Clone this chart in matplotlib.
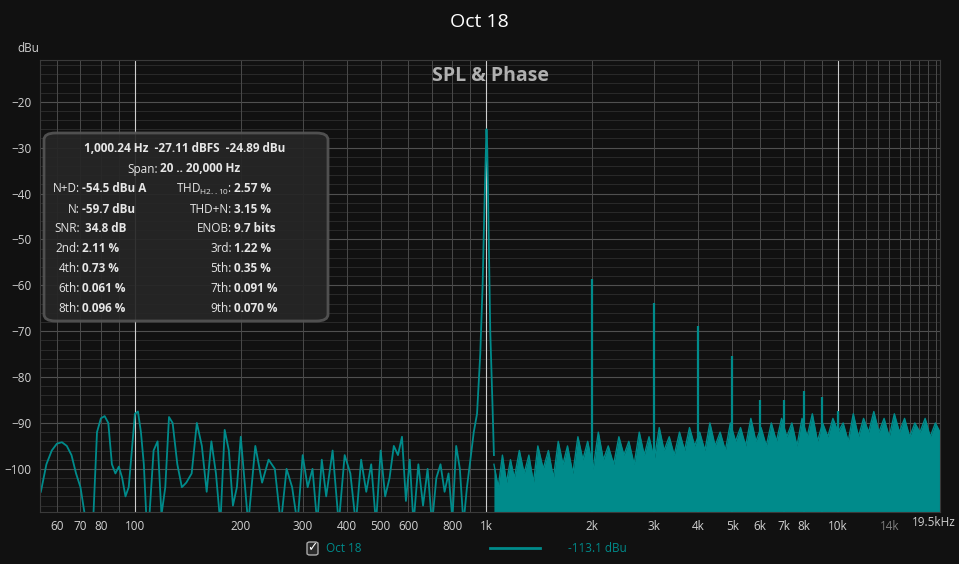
import matplotlib.pyplot as plt
from matplotlib.patches import FancyBboxPatch
from matplotlib.lines import Line2D

plt.rcParams['font.family'] = 'Open Sans'

teal = '#008b8b'
bg = '#111111'

# low frequency part (Hz, dBu)
lo_f = [54, 56, 58, 60, 62, 64, 66, 68, 70, 72, 74, 76, 78, 80, 82, 84, 86, 88, 90, 92,
        94, 96, 98, 100, 102, 104, 106, 108, 110, 113, 116, 119, 122, 125, 128, 132, 136,
        140, 145, 150, 155, 160, 165, 170, 175, 180, 185, 190, 195, 200, 210, 220, 230,
        240, 250, 260, 270, 280, 290, 300, 310, 320, 330, 340, 350, 365, 380, 395, 410,
        425, 440, 455, 470, 485, 500, 515, 530, 545, 560, 575, 590, 605, 620, 640, 660,
        680, 700, 720, 740, 760, 780, 800, 820, 840, 860, 880, 900, 920, 940, 960, 975,
        985, 995, 1000, 1005, 1015, 1025, 1040, 1050]
lo_db = [-105, -99, -96, -94.5, -94.2, -95, -97, -101, -104, -110, -112, -112, -92, -89,
         -88.5, -90, -99, -101, -99.5, -102, -106, -104, -96, -88, -87.5, -92, -99, -112,
         -110, -96, -94, -110, -104, -88.7, -90, -99, -104, -103, -101, -90, -95, -105,
         -94, -101, -112, -91.5, -96, -108, -104, -93, -112, -95, -103, -98, -100, -112,
         -100, -104, -112, -97, -104, -100, -112, -98, -106, -96, -112, -97, -101, -112,
         -98, -105, -99, -112, -96, -106, -102, -95, -97, -93, -107, -98, -112, -99, -108,
         -100, -112, -102, -99, -105, -101, -111, -95, -100, -112, -104, -98, -92, -88,
         -75, -60, -45, -32, -26, -30, -50, -70, -86, -97]

# noise floor top edge above 1 kHz (jagged, alternating peaks and dips)
hi_f = [1050, 1080, 1110, 1140, 1170, 1200, 1240, 1280, 1320, 1360, 1400, 1450, 1500, 1550,
        1600, 1650, 1700, 1760, 1820, 1880, 1940, 2010, 2080, 2150, 2220, 2300, 2380, 2460,
        2540, 2630, 2720, 2810, 2900, 3000, 3100, 3200, 3310, 3420, 3540, 3660, 3780, 3910,
        4040, 4180, 4320, 4470, 4620, 4780, 4940, 5110, 5280, 5460, 5650, 5840, 6040, 6250,
        6460, 6680, 6910, 7150, 7390, 7640, 7900, 8170, 8450, 8740, 9040, 9350, 9670, 10000,
        10340, 10690, 11050, 11430, 11820, 12220, 12640, 13070, 13520, 13980, 14460, 14950,
        15460, 15990, 16540, 17100, 17690, 18290, 18920, 19500]
hi_top = [-99, -104, -97, -103, -98, -102, -96, -101, -97, -103, -95, -100, -96, -102,
          -94, -99, -95, -101, -93, -98, -94, -100, -92, -98, -95, -99, -93, -97,
          -94, -99, -92, -97, -93, -98, -91, -96, -93, -97, -92, -96, -91, -95,
          -92, -96, -90, -95, -92, -96, -90, -94, -91, -95, -89, -94, -91, -95,
          -90, -94, -89, -93, -90, -95, -89, -93, -88, -94, -90, -93, -89, -92,
          -90, -94, -88, -93, -89, -92, -87.5, -92, -89, -93, -88, -92, -89, -93,
          -90, -92, -89, -93, -90, -92]

harm_f = [2000, 3000, 4000, 5000, 6000, 7000, 8000, 9000, 10000]
harm_db = [-58.7, -63.9, -68.9, -75.5, -85, -85, -83, -84.4, -87.4]

xticks = [60, 70, 80, 100, 200, 300, 400, 500, 600, 800, 1000, 2000, 3000, 4000,
          5000, 6000, 7000, 8000, 10000, 14000]
xlabels = ['60', '70', '80', '100', '200', '300', '400', '500', '600', '800', '1k', '2k',
           '3k', '4k', '5k', '6k', '7k', '8k', '10k', '14k']
yticks = [-20, -30, -40, -50, -60, -70, -80, -90, -100]

W, H = 959, 564
fig = plt.figure(figsize=(W / 100, H / 100), dpi=100, facecolor=bg)
ax = fig.add_axes([40 / W, 52 / H, 900 / W, 452 / H], facecolor=bg)
ax.set_xscale('log')
ymin, ymax = -109.4, -10.9
ax.set_xlim(53.7, 19500)
ax.set_ylim(ymin, ymax)

# grid
for yv in range(-108, -10, 2):
    ax.axhline(yv, color='#2e2e2e', lw=0.6, zorder=0)
for yv in yticks:
    ax.axhline(yv, color='#505050', lw=0.8, zorder=0)
minor = [60, 70, 80, 90, 200, 300, 400, 500, 600, 700, 800, 900, 2000, 3000, 4000,
         5000, 6000, 7000, 8000, 9000, 11000, 12000, 13000, 14000, 15000, 16000,
         17000, 18000, 19000]
for xv in minor:
    ax.axvline(xv, color='#4a4a4a', lw=0.7, zorder=0)
for xv in [100, 1000, 10000]:
    ax.axvline(xv, color='#cfcfcf', lw=0.8, zorder=0)

ax.plot(lo_f, lo_db, color=teal, lw=1.3, zorder=2)
ax.fill_between(hi_f, ymin, hi_top, color=teal, lw=0, zorder=2)
ax.plot(hi_f, hi_top, color=teal, lw=1.0, zorder=2)
ax.vlines(harm_f, ymin, harm_db, color=teal, lw=1.6, zorder=3)

ax.set_xticks(xticks)
ax.set_xticklabels(xlabels)
ax.minorticks_off()
ax.set_yticks(yticks)
ax.tick_params(colors='#d0d0d0', labelsize=8.5, length=0, pad=6)
for lab in ax.get_xticklabels():
    if lab.get_text() == '14k':
        lab.set_color('#808080')
for s in ax.spines.values():
    s.set_color('#3a3a3a')

fig.text(956 / W, 1 - 523 / H, '19.5kHz', color='#d0d0d0', fontsize=8.5, ha='right', va='center')
fig.text(0.5, 1 - 22 / H, 'Oct 18', color='white', fontsize=14, ha='center', va='center')
fig.text(490 / W, 1 - 76 / H, 'SPL & Phase', color='#b0b0b0', fontsize=14,
         fontweight='bold', ha='center', va='center')
fig.text(28 / W, 1 - 49 / H, 'dBu', color='#d0d0d0', fontsize=8.5, ha='center', va='center')

# info box
box = FancyBboxPatch((44 / W, 1 - 321 / H), 284 / W, 188 / H,
                     boxstyle='round,pad=0,rounding_size=0.012', transform=fig.transFigure,
                     facecolor='#262626', edgecolor='#555555', lw=2, alpha=0.92, zorder=5)
fig.patches.append(box)
tc = '#e6e6e6'
def put(x, y, s, ha='left', bold=False):
    fig.text(x / W, 1 - y / H, s, color=tc, fontsize=8.5, ha=ha, va='center',
             fontweight='bold' if bold else 'normal', zorder=6)

put(185, 149, '1,000.24 Hz  -27.11 dBFS  -24.89 dBu', ha='center', bold=True)
put(158, 169, 'Span:', ha='right')
put(160, 169, '20 .. 20,000 Hz', bold=True)
left_rows = [('N+D:', '-54.5 dBu A'), ('N:', '-59.7 dBu'), ('SNR:', ' 34.8 dB'),
             ('2nd:', '2.11 %'), ('4th:', '0.73 %'), ('6th:', '0.061 %'), ('8th:', '0.096 %')]
right_rows = [('THD$_{\\mathregular{H2..10}}$:', '2.57 %'), ('THD+N:', '3.15 %'),
              ('ENOB:', '9.7 bits'), ('3rd:', '1.22 %'), ('5th:', '0.35 %'),
              ('7th:', '0.091 %'), ('9th:', '0.070 %')]
for i, ((l1, v1), (l2, v2)) in enumerate(zip(left_rows, right_rows)):
    y = 189 + 20 * i
    put(80, y, l1, ha='right')
    put(82, y, v1, bold=True)
    put(232, y, l2, ha='right')
    put(234, y, v2, bold=True)

# bottom legend
fig.patches.append(FancyBboxPatch((307 / W, 1 - 555 / H), 11 / W, 13 / H,
                                  boxstyle='round,pad=0,rounding_size=0.003',
                                  transform=fig.transFigure, facecolor='#2a2a2a',
                                  edgecolor='#aaaaaa', lw=1))
fig.text(312.5 / W, 1 - 548 / H, '\u2713', color='white', fontsize=9, ha='center',
         va='center', fontfamily='DejaVu Sans')
fig.text(326 / W, 1 - 548 / H, 'Oct 18', color=teal, fontsize=8.5, va='center')
fig.lines.append(Line2D([490 / W, 540 / W], [1 - 548 / H] * 2, color=teal, lw=2,
                        transform=fig.transFigure))
fig.text(568 / W, 1 - 548 / H, '-113.1 dBu', color=teal, fontsize=8.5, va='center')

fig.savefig('out.png', dpi=100, facecolor=bg)
